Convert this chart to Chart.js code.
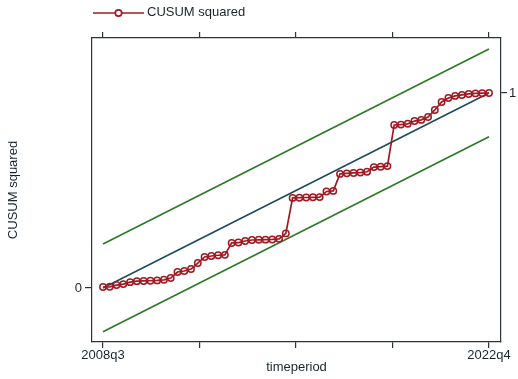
<!DOCTYPE html>
<html>
<head>
<meta charset="utf-8">
<script src="https://cdn.jsdelivr.net/npm/chart.js@4/dist/chart.umd.min.js"></script>
<style>
  html, body { margin: 0; padding: 0; background: #ffffff; }
  #wrap { width: 518px; height: 379px; }
</style>
</head>
<body>
<div id="wrap"><canvas id="c" width="518" height="379"></canvas></div>
<script>
// Quarterly periods
const periods = [
  '2008q3','2008q4',
  '2009q1','2009q2','2009q3','2009q4',
  '2010q1','2010q2','2010q3','2010q4',
  '2011q1','2011q2','2011q3','2011q4',
  '2012q1','2012q2','2012q3','2012q4',
  '2013q1','2013q2','2013q3','2013q4',
  '2014q1','2014q2','2014q3','2014q4',
  '2015q1','2015q2','2015q3','2015q4',
  '2016q1','2016q2','2016q3','2016q4',
  '2017q1','2017q2','2017q3','2017q4',
  '2018q1','2018q2','2018q3','2018q4',
  '2019q1','2019q2','2019q3','2019q4',
  '2020q1','2020q2','2020q3','2020q4',
  '2021q1','2021q2','2021q3','2021q4',
  '2022q1','2022q2','2022q3','2022q4'
];

// Cumulative sum of squared recursive residuals
const cusumSq = [
  0.005, 0.006, 0.015, 0.020, 0.030, 0.035, 0.036, 0.037, 0.039, 0.042,
  0.051, 0.082, 0.087, 0.097, 0.128, 0.159, 0.164, 0.168, 0.170, 0.231,
  0.233, 0.241, 0.246, 0.247, 0.248, 0.249, 0.252, 0.280, 0.462, 0.463,
  0.464, 0.465, 0.466, 0.495, 0.498, 0.585, 0.588, 0.590, 0.592, 0.596,
  0.620, 0.622, 0.625, 0.836, 0.838, 0.842, 0.856, 0.862, 0.877, 0.913,
  0.954, 0.974, 0.985, 0.990, 0.995, 0.998, 0.999, 1.000
];

// Expected path (start/end) and half-width of the significance band
const expectedPath = [0, 1];
const bandHalfWidth = 0.225;

// Axis ticks
const xTickPositions = [0, 14.25, 28.5, 42.75, 57];
const xTickLabels = { 0: '2008q3', 57: '2022q4' };
const yLeftTicks = [0];
const yRightTicks = [1];

const FONT = "'Liberation Sans', Arial, sans-serif";
const TEXT = '#18262c';
const FRAME = '#2a3439';
const RED = '#a01a22';
const GREEN = '#2e7a28';
const TEAL = '#1c4c58';

const lastIdx = periods.length - 1;
const seriesPoints = cusumSq.map((v, i) => ({ x: i, y: v }));
const expectedLine = [{ x: 0, y: expectedPath[0] }, { x: lastIdx, y: expectedPath[1] }];
const upperBand = expectedLine.map(p => ({ x: p.x, y: p.y + bandHalfWidth }));
const lowerBand = expectedLine.map(p => ({ x: p.x, y: p.y - bandHalfWidth }));

const xMin = -1.624, xMax = lastIdx + 1.772;
const yMin = -0.277, yMax = 1.282;

const axisGrid = { drawOnChartArea: false, drawTicks: true, tickLength: 6, color: FRAME, lineWidth: 1.2 };
const axisBorder = { display: true, color: FRAME, width: 1.2 };

// Legend drawn above the plot: line sample with hollow marker, then label
const legendPlugin = {
  id: 'topLegend',
  afterDraw(chart) {
    const ctx = chart.ctx;
    ctx.save();
    ctx.strokeStyle = RED;
    ctx.lineWidth = 1.7;
    ctx.beginPath();
    ctx.moveTo(93, 13);
    ctx.lineTo(144, 13);
    ctx.stroke();
    ctx.fillStyle = '#ffffff';
    ctx.beginPath();
    ctx.arc(118.5, 13, 3.2, 0, Math.PI * 2);
    ctx.fill();
    ctx.stroke();
    ctx.fillStyle = TEXT;
    ctx.font = '13px ' + FONT;
    ctx.textBaseline = 'middle';
    ctx.textAlign = 'left';
    ctx.fillText(chart.data.datasets[0].label, 147, 12.5);
    ctx.restore();
  }
};

new Chart(document.getElementById('c'), {
  type: 'line',
  data: {
    datasets: [
      {
        label: 'CUSUM squared',
        data: seriesPoints,
        borderColor: RED,
        borderWidth: 1.7,
        pointStyle: 'circle',
        pointRadius: 3.2,
        pointBorderWidth: 1.5,
        pointBackgroundColor: 'rgba(255,255,255,0)',
        pointBorderColor: RED,
        tension: 0,
        xAxisID: 'x',
        yAxisID: 'y'
      },
      {
        label: 'expected',
        data: expectedLine,
        borderColor: TEAL,
        borderWidth: 1.6,
        pointRadius: 0,
        xAxisID: 'x',
        yAxisID: 'y'
      },
      {
        label: 'upper bound',
        data: upperBand,
        borderColor: GREEN,
        borderWidth: 1.7,
        pointRadius: 0,
        xAxisID: 'x',
        yAxisID: 'y'
      },
      {
        label: 'lower bound',
        data: lowerBand,
        borderColor: GREEN,
        borderWidth: 1.7,
        pointRadius: 0,
        xAxisID: 'x',
        yAxisID: 'y'
      }
    ]
  },
  options: {
    responsive: false,
    animation: false,
    devicePixelRatio: 1,
    layout: { padding: { top: 30, left: 0, right: 0, bottom: 0 } },
    plugins: {
      legend: { display: false },
      tooltip: { enabled: false },
      title: { display: false }
    },
    scales: {
      x: {
        type: 'linear',
        position: 'bottom',
        min: xMin,
        max: xMax,
        afterBuildTicks: s => { s.ticks = xTickPositions.map(v => ({ value: v })); },
        afterFit: s => { s.height = 37; },
        ticks: {
          autoSkip: false,
          maxRotation: 0,
          padding: 0,
          color: TEXT,
          font: { family: FONT, size: 13 },
          callback: v => xTickLabels[v] || ''
        },
        grid: axisGrid,
        border: axisBorder,
        title: {
          display: true,
          text: 'timeperiod',
          color: TEXT,
          font: { family: FONT, size: 13 },
          padding: { top: 0, bottom: 4 }
        }
      },
      xTop: {
        type: 'linear',
        position: 'top',
        min: xMin,
        max: xMax,
        afterBuildTicks: s => { s.ticks = xTickPositions.map(v => ({ value: v })); },
        afterFit: s => { s.height = 8; },
        ticks: { display: false },
        grid: axisGrid,
        border: axisBorder
      },
      y: {
        type: 'linear',
        position: 'left',
        min: yMin,
        max: yMax,
        afterBuildTicks: s => { s.ticks = yLeftTicks.map(v => ({ value: v })); },
        afterFit: s => { s.width = 92; },
        ticks: {
          padding: 3,
          color: TEXT,
          font: { family: FONT, size: 13 },
          callback: v => String(v)
        },
        grid: Object.assign({}, axisGrid, { tickLength: 7 }),
        border: axisBorder,
        title: {
          display: true,
          text: 'CUSUM squared',
          color: TEXT,
          font: { family: FONT, size: 13 },
          padding: { top: 6, bottom: 0 }
        }
      },
      yRight: {
        type: 'linear',
        position: 'right',
        min: yMin,
        max: yMax,
        afterBuildTicks: s => { s.ticks = yRightTicks.map(v => ({ value: v })); },
        afterFit: s => { s.width = 17; },
        ticks: {
          padding: 2,
          color: TEXT,
          font: { family: FONT, size: 13 },
          callback: v => String(v)
        },
        grid: axisGrid,
        border: axisBorder
      }
    }
  },
  plugins: [legendPlugin]
});
</script>
</body>
</html>
